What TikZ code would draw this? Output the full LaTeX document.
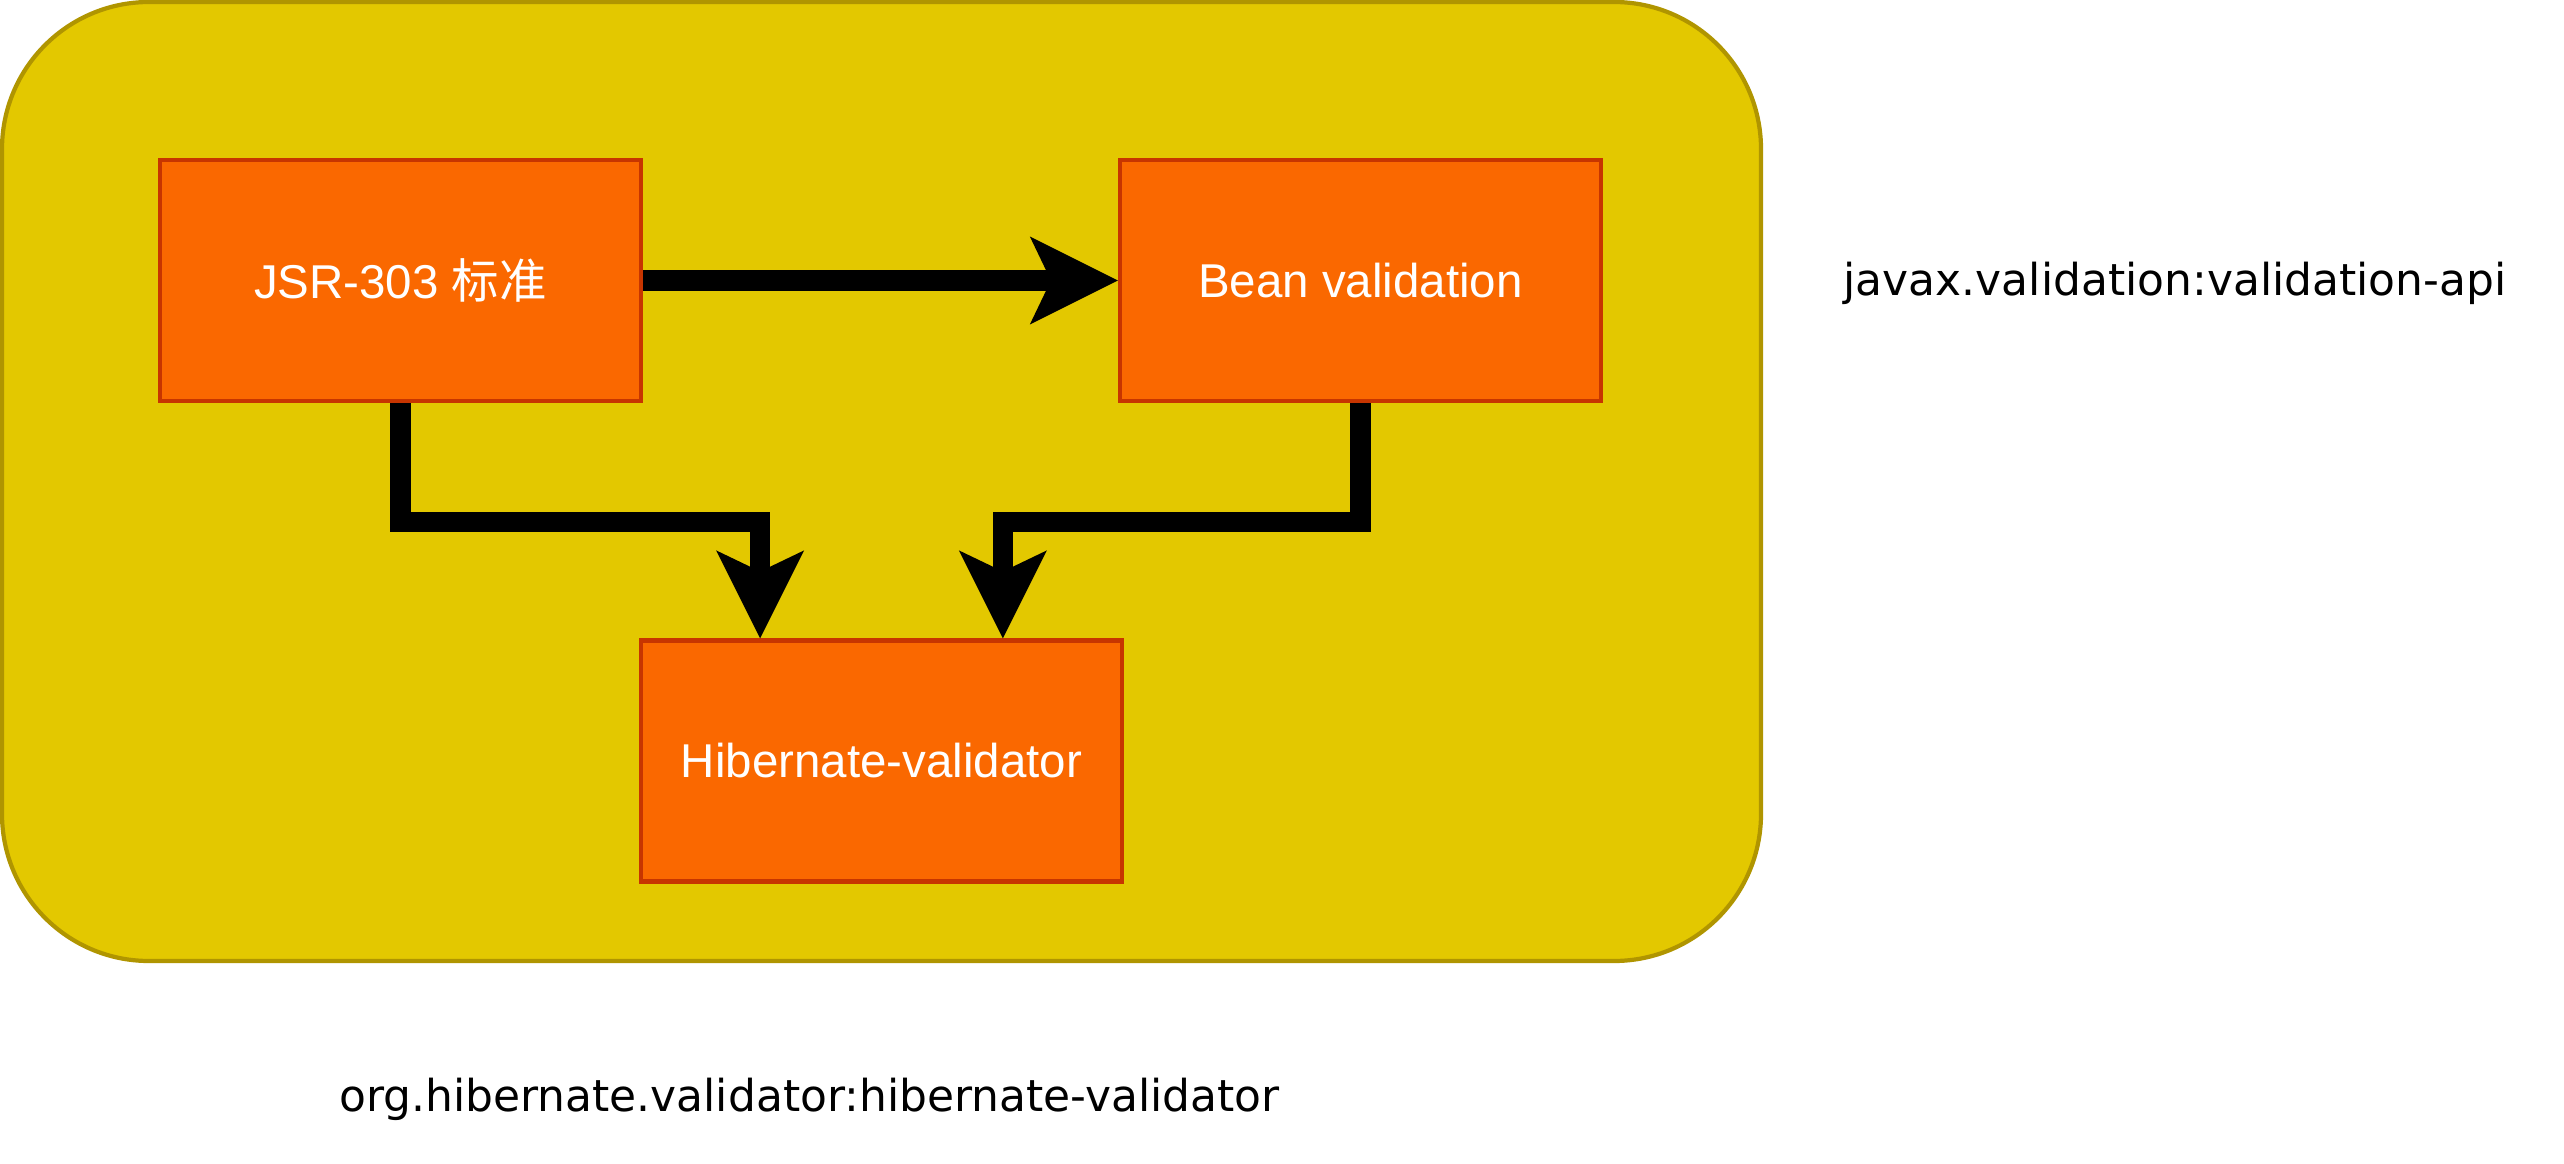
\documentclass[tikz,border=0pt]{standalone}
\usepackage{fontspec}
\setmainfont{Liberation Sans}
\newfontfamily\cjk{Noto Sans CJK SC}
\newfontfamily\labelfont{DejaVu Sans}
\usetikzlibrary{arrows.meta,calc}

\definecolor{groupfill}{HTML}{E3C800}
\definecolor{groupline}{HTML}{B09500}
\definecolor{boxfill}{HTML}{FA6800}
\definecolor{boxline}{HTML}{C73500}

\tikzset{
	box/.style={draw=boxline,fill=boxfill,line width=1.2pt,minimum width=4.81cm,minimum height=2.41cm,text=white,font=\fontsize{13.5}{15}\selectfont},
	arr/.style={line width=5.7pt,-{Stealth[length=25pt,width=25pt,inset=6pt,line width=0pt]}},
	note/.style={font=\labelfont\fontsize{12.5}{15}\selectfont}
}

\begin{document}
\begin{tikzpicture}[x=0.01cm,y=-0.01cm]
	\useasboundingbox (0,0) rectangle (2564,1164);
	\draw[groupline,fill=groupfill,line width=1.2pt,rounded corners=1.47cm] (2,2) rectangle (1761,961);
	
	\node[box] (jsr) at (400.5,280.5) {JSR-303 {\cjk 标准}};
	\node[box] (bean) at (1360.5,280.5) {Bean validation};
	\node[box] (hib) at (881.5,761) {Hibernate-validator};
	
	\coordinate (hibl) at ($(hib.north west)!0.25!(hib.north east)$);
	\coordinate (hibr) at ($(hib.north west)!0.75!(hib.north east)$);
	
	\draw[arr] (jsr) -- (bean);
	\draw[arr] (jsr.south) -- ++(0,119) -| (hibl);
	\draw[arr] (bean.south) -- ++(0,119) -| (hibr);
	
	\node[note] (api) at (2175,283) {javax.validation:validation-api};
	\node[note] (impl) at (809.5,1099) {org.hibernate.validator:hibernate-validator};
\end{tikzpicture}
\end{document}
